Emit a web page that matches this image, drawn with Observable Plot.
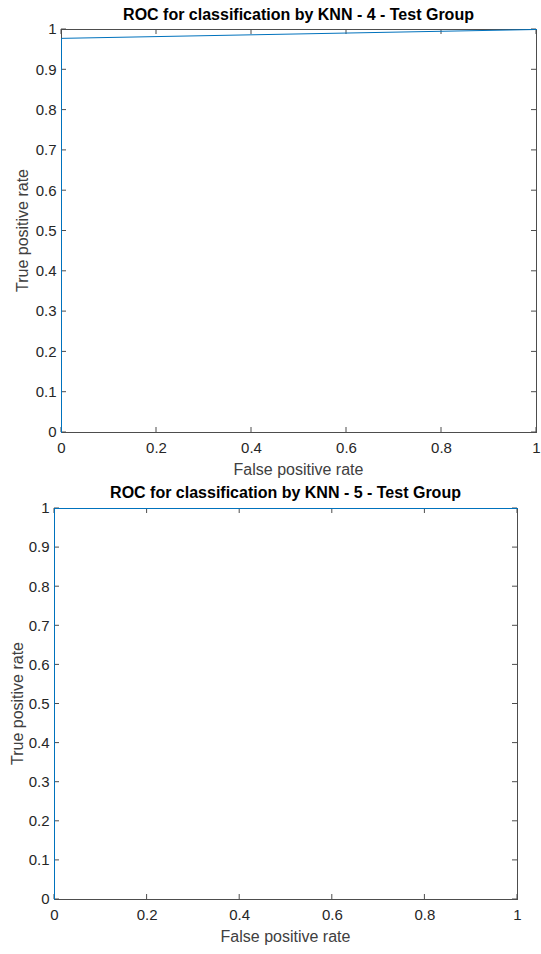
<!DOCTYPE html>
<html><head><meta charset="utf-8">
<script src="https://cdn.jsdelivr.net/npm/d3@7"></script>
<script src="https://cdn.jsdelivr.net/npm/@observablehq/plot@0.6"></script>
<style>
body{margin:0;background:#fff;font-family:"Liberation Sans",Arial,sans-serif;}
#wrap{position:relative;width:541px;height:954px;}
.panel{position:absolute;left:0;}
.title{position:absolute;left:0;font-weight:bold;font-size:16px;line-height:18px;color:#000;white-space:nowrap;transform:translateX(-50%);}
</style></head>
<body><div id="wrap"></div>
<script>
const titles = ["ROC for classification by KNN - 4 - Test Group", "ROC for classification by KNN - 5 - Test Group"];
const fpr4 = [0, 0, 1];
const tpr4 = [0, 0.978, 1];
const fpr5 = [0, 0, 1];
const tpr5 = [0, 1, 1];
const xTicks = [0, 0.2, 0.4, 0.6, 0.8, 1];
const yTicks = [0, 0.1, 0.2, 0.3, 0.4, 0.5, 0.6, 0.7, 0.8, 0.9, 1];
const xLabel = "False positive rate";
const yLabel = "True positive rate";

const panels = [
  {fpr: fpr4, tpr: tpr4, title: titles[0], top: 0, height: 480, ml: 61, mr: 5, mt: 29, mb: 48, labelX: 22, titleTop: 6},
  {fpr: fpr5, tpr: tpr5, title: titles[1], top: 480, height: 474, ml: 54, mr: 24, mt: 28, mb: 55, labelX: 17, titleTop: 4}
];
const wrap = document.getElementById("wrap");
const textColor = "#262626";
const frameColor = "#4d4d4d";
for (const p of panels) {
  const data = p.fpr.map((x, i) => ({x, y: p.tpr[i]}));
  const chart = Plot.plot({
    width: 541, height: p.height,
    marginLeft: p.ml, marginRight: p.mr, marginTop: p.mt, marginBottom: p.mb,
    style: {fontFamily: '"Liberation Sans", Arial, sans-serif', fontSize: "15px", color: textColor, background: "#fff", overflow: "visible"},
    x: {domain: [0, 1]},
    y: {domain: [0, 1]},
    marks: [
      Plot.axisX(xTicks, {anchor: "bottom", tickSize: 0, tickPadding: 10, tickFormat: d => String(d), label: null, fill: textColor}),
      Plot.axisY(yTicks, {anchor: "left", tickSize: 0, tickPadding: 5, tickFormat: d => String(d), label: null, fill: textColor}),
      Plot.frame({stroke: frameColor, strokeWidth: 1}),
      Plot.line(data, {x: "x", y: "y", stroke: "#0072BD", strokeWidth: 1})
    ]
  });
  chart.classList.add("panel");
  chart.style.top = p.top + "px";
  wrap.appendChild(chart);
  // inward ticks on all four sides, placed through the chart's own scales
  const svg = d3.select(chart);
  const W = 541, H = p.height;
  const xs = chart.scale("x"), ys = chart.scale("y");
  const g = svg.insert("g", "g[aria-label='line']").attr("stroke", frameColor).attr("stroke-width", 1);
  for (const t of xTicks) {
    const x = xs.apply(t);
    g.append("line").attr("x1", x).attr("x2", x).attr("y1", H - p.mb).attr("y2", H - p.mb - 5);
    g.append("line").attr("x1", x).attr("x2", x).attr("y1", p.mt).attr("y2", p.mt + 5);
  }
  for (const t of yTicks) {
    const y = ys.apply(t);
    g.append("line").attr("y1", y).attr("y2", y).attr("x1", p.ml).attr("x2", p.ml + 5);
    g.append("line").attr("y1", y).attr("y2", y).attr("x1", W - p.mr).attr("x2", W - p.mr - 5);
  }
  // axis labels
  svg.append("text").attr("x", (p.ml + W - p.mr) / 2).attr("y", H - p.mb + 43)
    .attr("text-anchor", "middle").attr("fill", "#404040").attr("font-size", 16).text(xLabel);
  svg.append("text").attr("transform", `translate(${p.labelX},${(p.mt + H - p.mb) / 2}) rotate(-90)`)
    .attr("text-anchor", "middle").attr("dy", "0.35em").attr("fill", "#404040").attr("font-size", 16).text(yLabel);
  const t = document.createElement("div");
  t.className = "title";
  t.textContent = p.title;
  t.style.left = ((p.ml + W - p.mr) / 2) + "px";
  t.style.top = (p.top + p.titleTop) + "px";
  wrap.appendChild(t);
}
</script></body></html>
